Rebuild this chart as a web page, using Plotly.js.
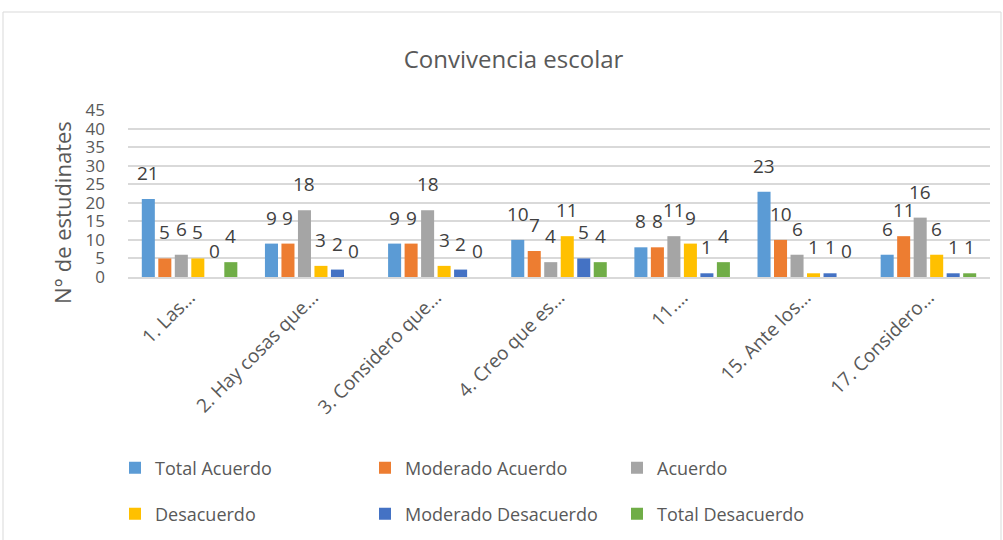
<!DOCTYPE html>
<html>
<head>
<meta charset="utf-8">
<script src="https://cdn.plot.ly/plotly-3.0.1.min.js"></script>
<style>html,body{margin:0;padding:0;background:#fff;}</style>
</head>
<body>
<div id="chart" style="width:1003px;height:540px;"></div>
<script>
const categories = ["1. Las…", "2. Hay cosas que…", "3. Considero que…", "4. Creo que es…", "11.…", "15. Ante los…", "17. Considero…"];
const seriesNames = ["Total Acuerdo", "Moderado Acuerdo", "Acuerdo", "Desacuerdo", "Moderado Desacuerdo", "Total Desacuerdo"];
const totalAcuerdo = [21, 9, 9, 10, 8, 23, 6];
const moderadoAcuerdo = [5, 9, 9, 7, 8, 10, 11];
const acuerdo = [6, 18, 18, 4, 11, 6, 16];
const desacuerdo = [5, 3, 3, 11, 9, 1, 6];
const moderadoDesacuerdo = [0, 2, 2, 5, 1, 1, 1];
const totalDesacuerdo = [4, 0, 0, 4, 4, 0, 1];
const yTicks = [0, 5, 10, 15, 20, 25, 30, 35, 40, 45];
const yTitle = "N° de estudinates";

const seriesValues = [totalAcuerdo, moderadoAcuerdo, acuerdo, desacuerdo, moderadoDesacuerdo, totalDesacuerdo];
const colors = ["#5B9BD5", "#ED7D31", "#A5A5A5", "#FFC000", "#4472C4", "#70AD47"];
const legendIds = ["legend", "legend2", "legend3", "legend4", "legend5", "legend6"];

const W = 1003, H = 540;
const M = {l: 128, r: 13, t: 110, b: 263, autoexpand: false};
const bargap = 0.196, bargroupgap = 0.21;
const font = "Open Sans, Liberation Sans, sans-serif";
const grey = "#595959";

const traces = seriesNames.map((name, i) => ({
  type: "bar",
  name: name,
  x: categories,
  y: seriesValues[i],
  marker: {color: colors[i]},
  legend: legendIds[i],
  hoverinfo: "x+y+name"
}));

const plotW = W - M.l - M.r;
const plotH = H - M.t - M.b;
const catW = plotW / categories.length;
const step = catW * (1 - bargap) / seriesNames.length;
const annotations = [];
seriesValues.forEach((vals, i) => {
  vals.forEach((v, j) => {
    annotations.push({
      x: categories[j], y: v, xref: "x", yref: "y",
      text: String(v), showarrow: false,
      xshift: (i - (seriesNames.length - 1) / 2) * step,
      yshift: 26, yanchor: "middle", xanchor: "center",
      font: {family: font, size: 19, color: "#404040"}
    });
  });
});
// y axis title (placed like the reference)
annotations.push({
  text: yTitle, textangle: -90, showarrow: false,
  xref: "paper", yref: "paper",
  x: (62 - M.l) / plotW, y: (H - M.b - 213) / plotH,
  xanchor: "center", yanchor: "middle",
  font: {family: font, size: 22, color: grey}
});

const colX = [115, 365, 617];
const rowY = [468, 514];
const layout = {
  width: W, height: H,
  margin: M,
  paper_bgcolor: "#ffffff",
  plot_bgcolor: "#ffffff",
  font: {family: font, color: grey},
  title: {
    text: "Convivencia escolar",
    font: {family: font, size: 24, color: grey},
    x: 0.512, xref: "container", xanchor: "center",
    y: 1 - 60 / H, yref: "container", yanchor: "middle"
  },
  barmode: "group",
  bargap: bargap,
  bargroupgap: bargroupgap,
  xaxis: {
    type: "category",
    tickangle: -45,
    tickfont: {family: font, size: 19, color: grey},
    showgrid: false,
    showline: true,
    linecolor: "#D9D9D9",
    linewidth: 1.5,
    ticks: "",
    automargin: false,
    fixedrange: true
  },
  yaxis: {
    range: [0, 45],
    tickvals: yTicks,
    ticktext: yTicks.map(String),
    tickfont: {family: font, size: 17, color: grey},
    showgrid: true,
    gridcolor: "#D9D9D9",
    gridwidth: 1.5,
    zeroline: false,
    showline: false,
    ticks: "",
    ticklabelstandoff: 22,
    automargin: false,
    fixedrange: true
  },
  annotations: annotations,
  shapes: [{
    type: "rect", xref: "paper", yref: "paper",
    x0: (3 - M.l) / plotW, x1: (1001 - M.l) / plotW,
    y0: (H - M.b - 548) / plotH, y1: (H - M.b - 12) / plotH,
    line: {color: "#D9D9D9", width: 1}, fillcolor: "rgba(0,0,0,0)", layer: "below"
  }],
  showlegend: true
};
legendIds.forEach((id, i) => {
  const col = i % 3, row = Math.floor(i / 3);
  layout[id] = {
    x: colX[col] / W, xref: "container", xanchor: "left",
    y: 1 - rowY[row] / H, yref: "container", yanchor: "middle",
    font: {family: font, size: 18, color: grey},
    bgcolor: "rgba(0,0,0,0)"
  };
});

Plotly.newPlot("chart", traces, layout, {displayModeBar: false, responsive: false});
</script>
</body>
</html>
